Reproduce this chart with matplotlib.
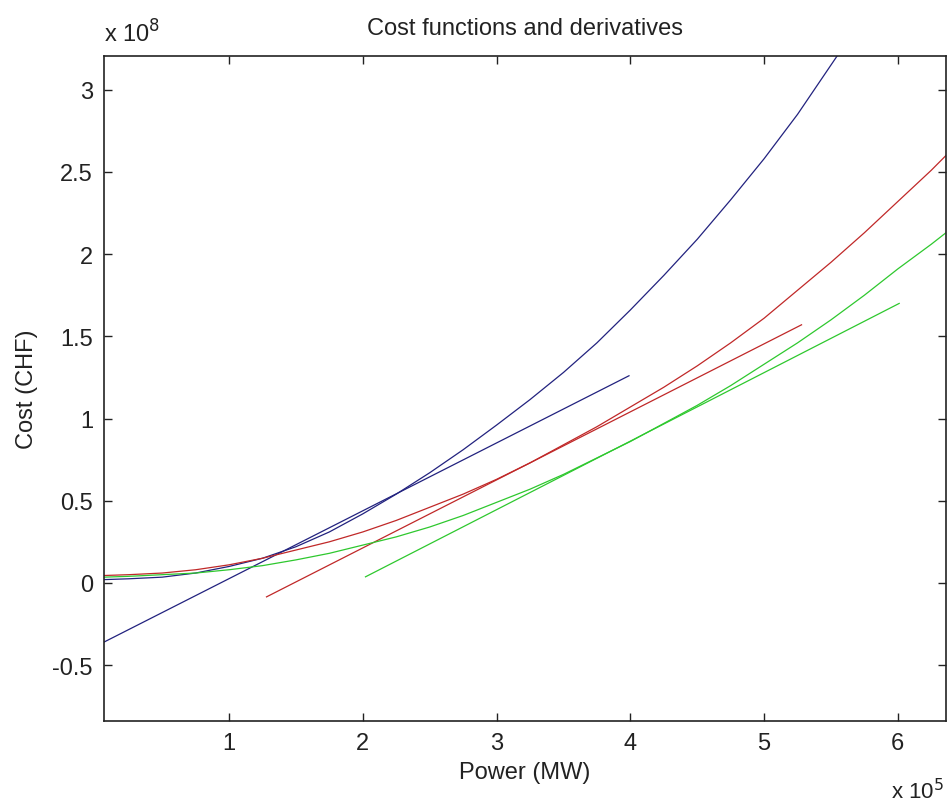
import matplotlib
matplotlib.use("Agg")
import matplotlib.pyplot as plt
from matplotlib.ticker import FuncFormatter

plt.rcParams['font.family'] = ['Liberation Sans', 'DejaVu Sans']

# Power in units of 1e5 MW, cost in units of 1e8 CHF
blue_x = [0.065, 0.25, 0.5, 0.75, 1.0, 1.25, 1.5, 1.75, 2.0, 2.25, 2.5, 2.75,
          3.0, 3.25, 3.5, 3.75, 4.0, 4.25, 4.5, 4.75, 5.0, 5.25, 5.55]
blue_y = [0.02, 0.025, 0.035, 0.06, 0.10, 0.15, 0.22, 0.31, 0.42, 0.54, 0.67, 0.81,
          0.96, 1.115, 1.28, 1.46, 1.66, 1.87, 2.09, 2.33, 2.58, 2.85, 3.21]
blue_tan_x = [0.065, 3.99]
blue_tan_y = [-0.36, 1.26]

red_x = [0.065, 0.25, 0.5, 0.75, 1.0, 1.25, 1.5, 1.75, 2.0, 2.25, 2.5, 2.75, 3.0,
         3.25, 3.5, 3.75, 4.0, 4.25, 4.5, 4.75, 5.0, 5.25, 5.5, 5.75, 6.0, 6.25, 6.36]
red_y = [0.045, 0.05, 0.06, 0.08, 0.11, 0.15, 0.20, 0.25, 0.31, 0.38, 0.46, 0.54, 0.63,
         0.73, 0.84, 0.95, 1.07, 1.19, 1.32, 1.46, 1.61, 1.78, 1.95, 2.13, 2.32, 2.51, 2.60]
red_tan_x = [1.28, 5.28]
red_tan_y = [-0.085, 1.57]

green_x = [0.065, 0.25, 0.5, 0.75, 1.0, 1.25, 1.5, 1.75, 2.0, 2.25, 2.5, 2.75, 3.0,
           3.25, 3.5, 3.75, 4.0, 4.25, 4.5, 4.75, 5.0, 5.25, 5.5, 5.75, 6.0, 6.25, 6.36]
green_y = [0.035, 0.04, 0.05, 0.06, 0.08, 0.105, 0.14, 0.18, 0.23, 0.28, 0.34, 0.41, 0.49,
           0.57, 0.66, 0.76, 0.86, 0.97, 1.08, 1.20, 1.33, 1.46, 1.60, 1.75, 1.91, 2.06, 2.13]
green_tan_x = [2.02, 6.01]
green_tan_y = [0.037, 1.70]

x_ticks = [1, 2, 3, 4, 5, 6]
y_ticks = [-0.5, 0, 0.5, 1, 1.5, 2, 2.5, 3]

BLUE = '#22227f'
RED = '#c02828'
GREEN = '#2ec82e'
TXT = '#222222'
FS = 17

fig = plt.figure(figsize=(9.48, 8.03), dpi=100)
ax = fig.add_axes([104 / 948, 1 - 722 / 803, (946 - 104) / 948, (722 - 57) / 803])

lw = 0.9
ax.plot(blue_x, blue_y, color=BLUE, lw=lw)
ax.plot(blue_tan_x, blue_tan_y, color=BLUE, lw=lw)
ax.plot(red_x, red_y, color=RED, lw=lw)
ax.plot(red_tan_x, red_tan_y, color=RED, lw=lw)
ax.plot(green_x, green_y, color=GREEN, lw=lw)
ax.plot(green_tan_x, green_tan_y, color=GREEN, lw=lw)

ax.set_xlim(0.065, 6.36)
ax.set_ylim(-0.84, 3.205)
ax.set_xticks(x_ticks)
ax.set_yticks(y_ticks)
fmt = FuncFormatter(lambda v, p: ('%g' % v))
ax.xaxis.set_major_formatter(fmt)
ax.yaxis.set_major_formatter(fmt)
ax.tick_params(direction='in', length=6, width=1, top=True, right=True,
               labelsize=FS, pad=8, colors=TXT)
for s in ax.spines.values():
    s.set_linewidth(1.2)
    s.set_color(TXT)

ax.set_title('Cost functions and derivatives', fontsize=FS, pad=15.5, color=TXT)
ax.set_xlabel('Power (MW)', fontsize=FS, labelpad=5, color=TXT)
ax.set_ylabel('Cost (CHF)', fontsize=FS, labelpad=10, color=TXT)

fig.text(104 / 948, 1 - 43 / 803, r'x 10$^{8}$', fontsize=FS, ha='left', va='baseline',
         color=TXT)
fig.text(944 / 948, 1 - 799 / 803, r'x 10$^{5}$', fontsize=FS - 1, ha='right', va='baseline',
         color=TXT)

fig.savefig('out.png', dpi=100)
